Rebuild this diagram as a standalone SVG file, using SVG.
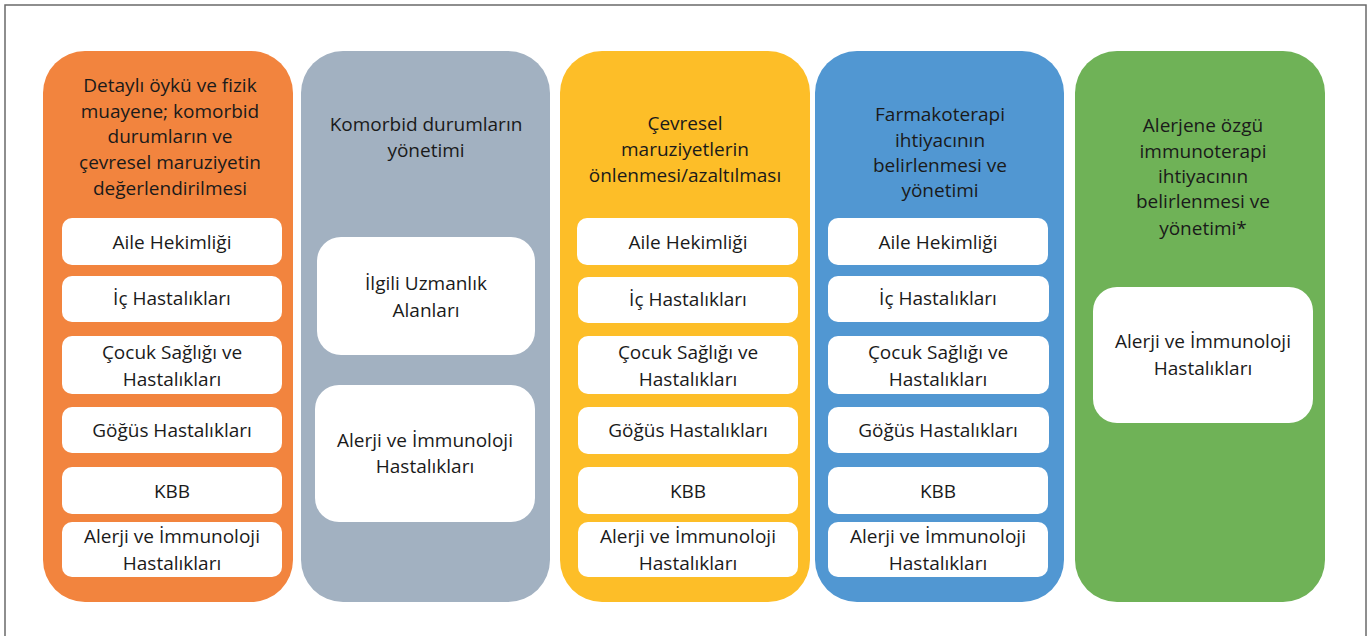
<svg xmlns="http://www.w3.org/2000/svg" width="1370" height="636" viewBox="0 0 1370 636">
  <style>
    .frame { fill: #ffffff; stroke: #6a6a6a; stroke-width: 1.5; }
    .col { stroke: none; }
    .box { fill: #ffffff; }
    text { font-family: "Open Sans", "Noto Sans", "DejaVu Sans", sans-serif; font-size: 19px; fill: #1a1a1a; text-anchor: middle; }
  </style>

  <rect class="frame" x="5" y="5" width="1361" height="640"/>

  <!-- Column 1: assessment -->
  <g id="col-assessment">
    <rect class="col" x="43" y="51" width="250" height="551" rx="42" fill="#F2843E"/>
    <text x="170" y="92">Detaylı öykü ve fizik</text>
    <text x="170" y="118">muayene; komorbid</text>
    <text x="170" y="143">durumların ve</text>
    <text x="170" y="169">çevresel maruziyetin</text>
    <text x="170" y="195">değerlendirilmesi</text>
    <rect class="box" x="62" y="218" width="220" height="47" rx="10"/>
    <text x="172" y="249">Aile Hekimliği</text>
    <rect class="box" x="62" y="276" width="220" height="46" rx="10"/>
    <text x="172" y="305">İç Hastalıkları</text>
    <rect class="box" x="62" y="336" width="220" height="58" rx="10"/>
    <text x="172" y="359">Çocuk Sağlığı ve</text>
    <text x="172" y="386">Hastalıkları</text>
    <rect class="box" x="62" y="407" width="220" height="46" rx="10"/>
    <text x="172" y="437">Göğüs Hastalıkları</text>
    <rect class="box" x="62" y="467" width="220" height="47" rx="10"/>
    <text x="172" y="498">KBB</text>
    <rect class="box" x="62" y="522" width="220" height="55" rx="10"/>
    <text x="172" y="543">Alerji ve İmmunoloji</text>
    <text x="172" y="570">Hastalıkları</text>
  </g>

  <!-- Column 2: comorbidities -->
  <g id="col-comorbid">
    <rect class="col" x="301" y="51" width="249" height="551" rx="42" fill="#A2B1C1"/>
    <text x="426" y="131">Komorbid durumların</text>
    <text x="426" y="157">yönetimi</text>
    <rect class="box" x="317" y="237" width="218" height="118" rx="24"/>
    <text x="426" y="290">İlgili Uzmanlık</text>
    <text x="426" y="317">Alanları</text>
    <rect class="box" x="315" y="385" width="220" height="137" rx="24"/>
    <text x="425" y="447">Alerji ve İmmunoloji</text>
    <text x="425" y="473">Hastalıkları</text>
  </g>

  <!-- Column 3: environmental exposure -->
  <g id="col-environment">
    <rect class="col" x="560" y="51" width="250" height="551" rx="42" fill="#FDBE28"/>
    <text x="685" y="130">Çevresel</text>
    <text x="685" y="156">maruziyetlerin</text>
    <text x="685" y="182">önlenmesi/azaltılması</text>
    <rect class="box" x="577" y="218" width="221" height="47" rx="10"/>
    <text x="688" y="249">Aile Hekimliği</text>
    <rect class="box" x="578" y="277" width="220" height="46" rx="10"/>
    <text x="688" y="306">İç Hastalıkları</text>
    <rect class="box" x="578" y="336" width="220" height="58" rx="10"/>
    <text x="688" y="359">Çocuk Sağlığı ve</text>
    <text x="688" y="386">Hastalıkları</text>
    <rect class="box" x="578" y="407" width="220" height="47" rx="10"/>
    <text x="688" y="437">Göğüs Hastalıkları</text>
    <rect class="box" x="578" y="467" width="220" height="47" rx="10"/>
    <text x="688" y="498">KBB</text>
    <rect class="box" x="578" y="522" width="220" height="55" rx="10"/>
    <text x="688" y="543">Alerji ve İmmunoloji</text>
    <text x="688" y="570">Hastalıkları</text>
  </g>

  <!-- Column 4: pharmacotherapy -->
  <g id="col-pharmacotherapy">
    <rect class="col" x="815" y="51" width="249" height="551" rx="42" fill="#5197D2"/>
    <text x="940" y="121">Farmakoterapi</text>
    <text x="940" y="147">ihtiyacının</text>
    <text x="940" y="172">belirlenmesi ve</text>
    <text x="940" y="197">yönetimi</text>
    <rect class="box" x="828" y="218" width="220" height="47" rx="10"/>
    <text x="938" y="249">Aile Hekimliği</text>
    <rect class="box" x="828" y="276" width="221" height="46" rx="10"/>
    <text x="938" y="305">İç Hastalıkları</text>
    <rect class="box" x="828" y="336" width="221" height="58" rx="10"/>
    <text x="938" y="359">Çocuk Sağlığı ve</text>
    <text x="938" y="386">Hastalıkları</text>
    <rect class="box" x="828" y="407" width="221" height="46" rx="10"/>
    <text x="938" y="437">Göğüs Hastalıkları</text>
    <rect class="box" x="828" y="467" width="220" height="47" rx="10"/>
    <text x="938" y="498">KBB</text>
    <rect class="box" x="828" y="522" width="220" height="55" rx="10"/>
    <text x="938" y="543">Alerji ve İmmunoloji</text>
    <text x="938" y="570">Hastalıkları</text>
  </g>

  <!-- Column 5: allergen immunotherapy -->
  <g id="col-immunotherapy">
    <rect class="col" x="1075" y="51" width="250" height="551" rx="42" fill="#6FB257"/>
    <text x="1203" y="132">Alerjene özgü</text>
    <text x="1203" y="158">immunoterapi</text>
    <text x="1203" y="183">ihtiyacının</text>
    <text x="1203" y="208">belirlenmesi ve</text>
    <text x="1203" y="235">yönetimi*</text>
    <rect class="box" x="1093" y="287" width="220" height="136" rx="24"/>
    <text x="1203" y="348">Alerji ve İmmunoloji</text>
    <text x="1203" y="375">Hastalıkları</text>
  </g>

  <!-- no connectors in this layout -->
  <g id="connectors"/>
</svg>
